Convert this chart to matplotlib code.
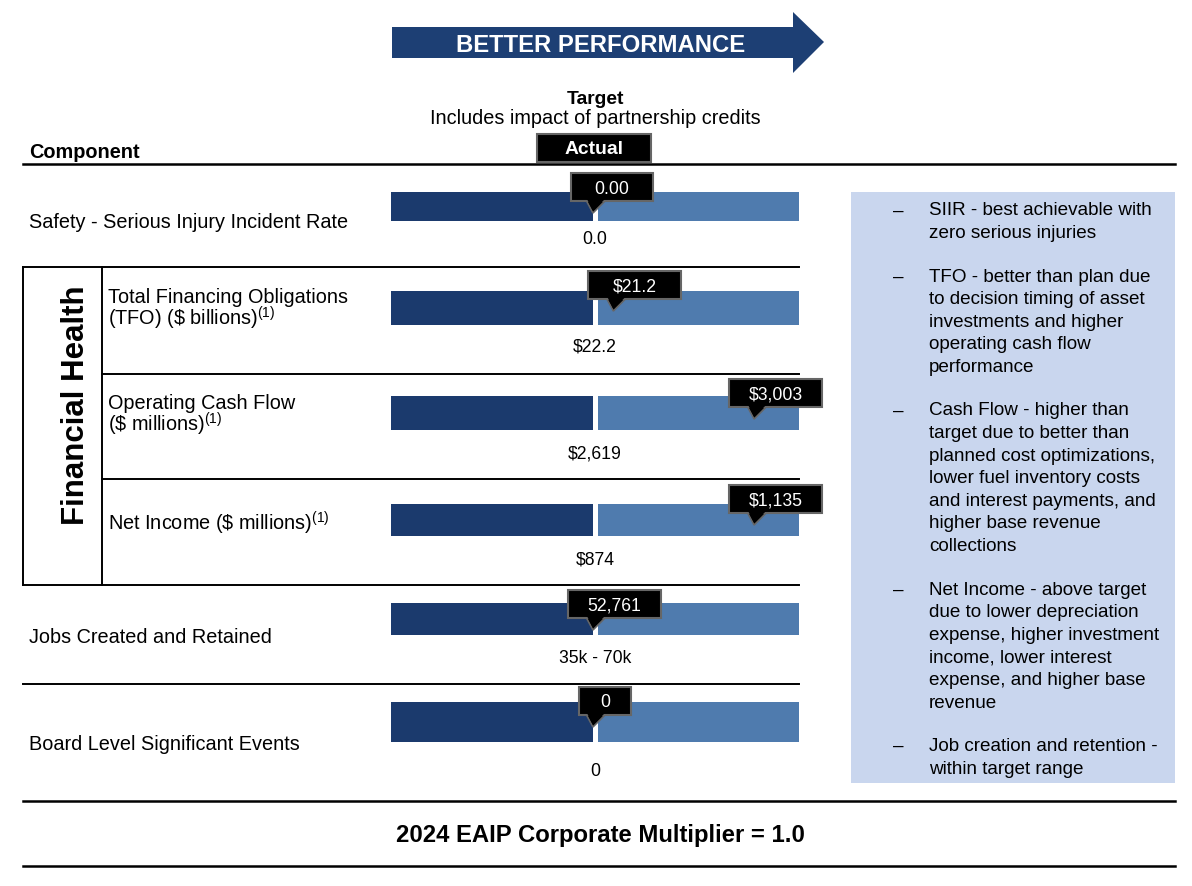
import matplotlib.pyplot as plt
from matplotlib.patches import Polygon, Rectangle

plt.rcParams["font.family"] = ["Liberation Sans", "DejaVu Sans"]
plt.rcParams["mathtext.fontset"] = "custom"
plt.rcParams["mathtext.rm"] = "Liberation Sans"
plt.rcParams["mathtext.default"] = "regular"

# Data
target_labels = ["0.0", "$22.2", "$2,619", "$874", "35k - 70k", "0"]
actual_labels = ["0.00", "$21.2", "$3,003", "$1,135", "52,761", "0"]
# where the actual sits on each bar: -1 = left end, 0 = target, 1 = right end
actual_pos = [-0.01, 0.09, 0.78, 0.78, -0.01, -0.01]

notes = [
    ["SIIR - best achievable with", "zero serious injuries"],
    ["TFO - better than plan due", "to decision timing of asset", "investments and higher",
     "operating cash flow", "performance"],
    ["Cash Flow - higher than", "target due to better than", "planned cost optimizations,",
     "lower fuel inventory costs", "and interest payments, and", "higher base revenue",
     "collections"],
    ["Net Income - above target", "due to lower depreciation", "expense, higher investment",
     "income, lower interest", "expense, and higher base", "revenue"],
    ["Job creation and retention -", "within target range"],
]

multiplier = "1.0"

# Layout (pixels, y down)
bar_x0, bar_x1 = 391, 799
mid = (bar_x0 + bar_x1) / 2
half = (bar_x1 - bar_x0) / 2
gap = 2.5
bar_top = [193, 292, 397, 505, 604, 703]
bar_bot = [222, 326, 431, 537, 636, 743]
label_y = [238, 345, 452, 558, 657, 770]
box_top = [174, 272, 380, 486, 591, 688]

dark = "#1b3a6d"
light = "#4f7bae"
navy = "#1d3f74"
panel = "#c9d6ee"

fig = plt.figure(figsize=(11.92, 8.87), dpi=100)
ax = fig.add_axes([0, 0, 1, 1])
ax.set_xlim(0, 1192)
ax.set_ylim(887, 0)
ax.axis("off")

fs = 14.3
dy = 2  # small nudge so text centres sit like the reference


def txt(x, y, s, **kw):
    kw.setdefault("va", "center")
    return ax.text(x, y + dy, s, **kw)


# arrow header
ax.add_patch(Polygon([(392, 28), (793, 28), (793, 13), (824, 43), (793, 74), (793, 59), (392, 59)],
                     closed=True, color=navy, lw=0))
txt(601, 43, "BETTER PERFORMANCE", color="white", fontsize=17.2, fontweight="bold", ha="center")

txt(595, 97, "Target", fontsize=13.9, fontweight="bold", ha="center")
txt(595, 117, "Includes impact of partnership credits", fontsize=fs, ha="center")
ax.add_patch(Rectangle((537, 135), 114, 28, facecolor="black", edgecolor="#666666", lw=1.5))
txt(594, 148, "Actual", color="white", fontsize=13.9, fontweight="bold", ha="center")
txt(29, 151, "Component", fontsize=fs, fontweight="bold", ha="left")

# table lines
ax.plot([23, 1175], [165, 165], color="black", lw=1.8)
ax.plot([23, bar_x1], [268, 268], color="black", lw=1.4)
ax.plot([102, bar_x1], [375, 375], color="black", lw=1.4)
ax.plot([102, bar_x1], [480, 480], color="black", lw=1.4)
ax.plot([23, bar_x1], [586, 586], color="black", lw=1.4)
ax.plot([23, bar_x1], [685, 685], color="black", lw=1.4)
ax.plot([23, 23], [268, 586], color="black", lw=1.4)
ax.plot([102, 102], [268, 586], color="black", lw=1.4)
ax.plot([23, 1175], [802, 802], color="black", lw=1.8)
ax.plot([23, 1175], [867, 867], color="black", lw=1.8)

ax.text(76, 405, "Financial Health", fontsize=22.5, fontweight="bold", rotation=90,
        ha="center", va="center")

# component labels
txt(29, 221, "Safety - Serious Injury Incident Rate", fontsize=fs)
txt(108, 308, "Total Financing Obligations\n" + r"(TFO) (\$ billions)$^{(1)}$",
    fontsize=fs, linespacing=0.88)
txt(108, 414, "Operating Cash Flow\n" + r"(\$ millions)$^{(1)}$", fontsize=fs, linespacing=0.88)
txt(108, 521, r"Net Income (\$ millions)$^{(1)}$", fontsize=fs)
txt(29, 636, "Jobs Created and Retained", fontsize=fs)
txt(29, 743, "Board Level Significant Events", fontsize=fs)

# bars
for i in range(len(target_labels)):
    yc = (bar_top[i] + bar_bot[i]) / 2
    h = bar_bot[i] - bar_top[i]
    ax.barh(yc, mid - gap - bar_x0, left=bar_x0, height=h, color=dark, zorder=2)
    ax.barh(yc, bar_x1 - mid - gap, left=mid + gap, height=h, color=light, zorder=2)
    txt(mid, label_y[i], target_labels[i], fontsize=12.7, ha="center")

    # callout for the actual value
    tip_x = mid + actual_pos[i] * half
    n = len(actual_labels[i])
    w = max(52, min(93, 30 + 13 * n))
    left = tip_x - min(26, 0.27 * w)
    top = box_top[i]
    ax.add_patch(Polygon([(tip_x - 7, top + 27), (tip_x + 13, top + 27), (tip_x, top + 40)],
                         closed=True, facecolor="black", edgecolor="#666666", lw=1.2, zorder=4))
    ax.add_patch(Rectangle((left, top), w, 28, facecolor="black", edgecolor="#666666",
                           lw=1.5, zorder=4))
    ax.add_patch(Polygon([(tip_x - 6, top + 26), (tip_x + 12, top + 26), (tip_x, top + 38)],
                         closed=True, facecolor="black", lw=0, zorder=5))
    txt(left + w / 2, top + 13, actual_labels[i], color="white", fontsize=12.7,
        ha="center", zorder=6)

# notes panel
ax.add_patch(Rectangle((851, 193), 324, 591, facecolor=panel, edgecolor="none"))
y = 209
line_h = 22.6
for para in notes:
    txt(893, y, "\u2013", fontsize=13.6)
    for j, line in enumerate(para):
        txt(929, y + j * line_h, line, fontsize=13.6)
    y += len(para) * line_h + 20.9

txt(600, 834, "2024 EAIP Corporate Multiplier = " + multiplier, fontsize=17.2,
    fontweight="bold", ha="center")

fig.savefig("out.png", dpi=100)
